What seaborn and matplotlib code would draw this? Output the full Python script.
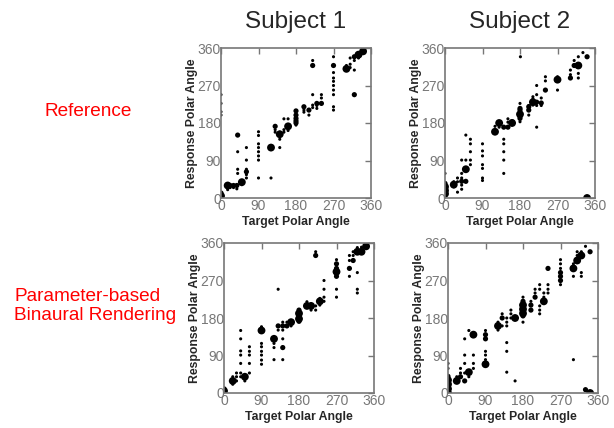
import numpy as np
import pandas as pd
import matplotlib
matplotlib.use("Agg")
import matplotlib.pyplot as plt
import seaborn as sns

# (target, response, weight); weight 1=small, 2=medium, 3=large dot
s1_ref = [
    (0, 5, 3), (0, 12, 2), (0, 199, 1), (0, 207, 1), (0, 227, 1), (0, 248, 1),
    (16, 30, 3), (16, 25, 1), (16, 20, 1), (22, 30, 2), (22, 25, 1), (30, 30, 2), (30, 25, 1),
    (38, 30, 2), (38, 22, 1), (50, 38, 3), (50, 32, 1),
    (40, 151, 2), (40, 111, 1), (40, 69, 1), (40, 59, 1),
    (61, 121, 1), (61, 91, 1), (61, 69, 1), (61, 63, 2), (61, 56, 1), (61, 48, 1),
    (90, 159, 1), (90, 150, 1), (90, 130, 1), (90, 121, 1), (90, 111, 1), (90, 101, 1), (90, 91, 1), (90, 48, 1),
    (120, 121, 3), (120, 48, 1),
    (130, 172, 2), (130, 164, 1), (130, 158, 1),
    (141, 158, 1), (141, 153, 3), (141, 141, 1), (141, 121, 1),
    (151, 190, 1), (151, 164, 1), (151, 158, 1),
    (161, 190, 1), (161, 172, 3), (161, 162, 1),
    (180, 209, 2), (180, 199, 2), (180, 191, 2), (180, 185, 2), (180, 180, 2), (180, 175, 1),
    (199, 219, 2), (199, 211, 1), (199, 206, 1),
    (211, 211, 2), (211, 199, 1),
    (220, 330, 1), (220, 318, 2), (220, 248, 1), (220, 223, 1), (220, 217, 1),
    (230, 227, 2), (230, 222, 1), (230, 215, 1),
    (241, 248, 1), (241, 240, 1), (241, 227, 2),
    (270, 339, 1), (270, 318, 2), (270, 301, 1), (270, 288, 1), (270, 280, 1), (270, 270, 1),
    (270, 259, 1), (270, 248, 1), (270, 219, 1), (270, 211, 1),
    (301, 318, 1), (301, 310, 3),
    (310, 336, 1), (310, 321, 1), (310, 313, 1),
    (320, 339, 2), (320, 330, 1), (320, 307, 1), (320, 248, 2),
    (330, 344, 3), (330, 336, 1),
    (341, 352, 3), (341, 349, 1),
]

s2_ref = [
    (0, 35, 2), (0, 27, 3), (0, 18, 3), (0, 10, 3), (0, 59, 1),
    (21, 39, 1), (21, 32, 3), (21, 27, 1),
    (30, 48, 1), (30, 39, 1), (30, 14, 1),
    (40, 91, 1), (40, 59, 1), (40, 48, 1), (40, 40, 2), (40, 31, 1), (40, 21, 1),
    (50, 151, 1), (50, 91, 1), (50, 69, 3), (50, 40, 2),
    (61, 141, 1), (61, 130, 1), (61, 111, 1), (61, 91, 1), (61, 80, 1),
    (90, 130, 1), (90, 113, 1), (90, 101, 1), (90, 80, 1), (90, 71, 1), (90, 48, 1), (90, 42, 1),
    (120, 172, 1), (120, 159, 3),
    (130, 180, 3), (130, 170, 1),
    (141, 170, 2), (141, 141, 1), (141, 130, 1), (141, 111, 1), (141, 91, 1), (141, 59, 1),
    (151, 190, 1), (151, 182, 1), (151, 170, 2),
    (161, 183, 2), (161, 180, 3),
    (180, 227, 1), (180, 215, 2), (180, 211, 2), (180, 201, 3), (180, 196, 2), (180, 191, 2), (180, 183, 1),
    (181, 339, 1),
    (201, 222, 1), (201, 219, 2), (201, 211, 2), (201, 199, 1),
    (211, 243, 1), (211, 238, 1), (211, 230, 3), (211, 223, 1),
    (220, 270, 1), (220, 248, 1), (220, 230, 2), (220, 222, 1), (220, 170, 1),
    (231, 240, 1), (231, 228, 2), (231, 222, 1),
    (241, 291, 1), (241, 281, 1), (241, 259, 2),
    (270, 291, 1), (270, 284, 3), (270, 259, 1),
    (301, 307, 1), (301, 296, 1), (301, 288, 2),
    (310, 330, 1), (310, 318, 2),
    (320, 339, 1), (320, 318, 3), (320, 299, 1), (320, 288, 1),
    (331, 349, 1),
    (341, 339, 2), (341, 0, 3),
]

s1_pbr = [
    (0, 10, 2), (0, 5, 3), (0, 0, 2),
    (21, 39, 1), (21, 29, 3), (21, 21, 1),
    (30, 48, 1), (30, 39, 1), (30, 29, 1),
    (40, 150, 1), (40, 130, 1), (40, 101, 1), (40, 91, 1), (40, 71, 1), (40, 48, 1), (40, 39, 1),
    (50, 39, 3), (50, 29, 1),
    (61, 111, 1), (61, 100, 1), (61, 91, 1), (61, 71, 1), (61, 48, 1),
    (90, 159, 1), (90, 150, 3), (90, 119, 1), (90, 111, 1), (90, 100, 1), (90, 91, 1), (90, 79, 1), (90, 69, 1),
    (120, 130, 3), (120, 119, 1), (120, 109, 1), (120, 80, 1),
    (130, 249, 1), (130, 161, 2), (130, 151, 1),
    (141, 170, 1), (141, 161, 2), (141, 151, 1), (141, 130, 1), (141, 109, 2), (141, 80, 1),
    (151, 170, 1), (151, 161, 2),
    (161, 170, 3), (161, 161, 1),
    (180, 199, 2), (180, 191, 3), (180, 185, 2), (180, 178, 3), (180, 172, 2),
    (199, 219, 1), (199, 211, 1), (199, 209, 3),
    (209, 209, 3), (209, 199, 1),
    (220, 339, 1), (220, 330, 2), (220, 209, 1), (220, 199, 1),
    (230, 227, 1), (230, 220, 3), (230, 211, 1),
    (240, 270, 1), (240, 249, 1), (240, 230, 1), (240, 220, 1),
    (270, 320, 1), (270, 310, 2), (270, 299, 2), (270, 291, 3), (270, 280, 2), (270, 249, 1), (270, 230, 1),
    (301, 330, 1), (301, 318, 1), (301, 299, 2), (301, 280, 1),
    (310, 339, 1), (310, 330, 1), (310, 318, 2),
    (320, 349, 1), (320, 339, 3), (320, 289, 1), (320, 249, 1), (320, 240, 1),
    (330, 350, 1), (330, 339, 3),
    (341, 352, 3),
]

s2_pbr = [
    (0, 71, 1), (0, 59, 1), (0, 40, 2), (0, 31, 3), (0, 21, 3), (0, 10, 3), (0, 0, 3),
    (21, 39, 1), (21, 29, 3),
    (30, 59, 1), (30, 48, 1), (30, 39, 2),
    (40, 130, 1), (40, 91, 1), (40, 71, 1), (40, 48, 1), (40, 29, 2),
    (50, 150, 1), (50, 50, 3), (50, 39, 1),
    (61, 140, 3), (61, 91, 1), (61, 71, 1), (61, 59, 1),
    (90, 150, 1), (90, 140, 2), (90, 130, 2), (90, 100, 1), (90, 91, 1), (90, 80, 1), (90, 69, 3),
    (120, 170, 1), (120, 161, 3), (120, 151, 1),
    (130, 190, 1), (130, 180, 2), (130, 161, 1),
    (141, 180, 1), (141, 170, 1), (141, 161, 1), (141, 121, 1), (141, 100, 1), (141, 50, 1),
    (151, 199, 1), (151, 190, 1), (151, 180, 1),
    (161, 180, 3), (161, 29, 1),
    (180, 230, 1), (180, 220, 2), (180, 211, 3), (180, 201, 3), (180, 191, 3), (180, 185, 2), (180, 170, 1),
    (199, 220, 1), (199, 211, 2), (199, 199, 2),
    (209, 249, 1), (209, 240, 1), (209, 230, 2),
    (220, 260, 1), (220, 249, 1), (220, 209, 1), (220, 199, 1), (220, 190, 1),
    (230, 240, 1), (230, 230, 1), (230, 220, 3),
    (240, 299, 2), (240, 260, 1), (240, 249, 1), (240, 240, 1),
    (270, 320, 1), (270, 310, 1), (270, 299, 1), (270, 289, 2), (270, 280, 2), (270, 270, 2), (270, 260, 1),
    (301, 310, 1), (301, 299, 3), (301, 280, 1), (301, 80, 1),
    (310, 339, 1), (310, 330, 1), (310, 318, 3),
    (320, 339, 1), (320, 330, 3), (320, 289, 1), (320, 280, 1),
    (330, 352, 1), (330, 8, 2),
    (341, 339, 2), (341, 0, 3),
]

ticks = [0, 90, 180, 270, 360]
subjects = ["Subject 1", "Subject 2"]
rows = ["Reference", "Parameter-based\nBinaural Rendering"]

sns.set_style("white")
plt.rcParams['font.family'] = ['Liberation Sans', 'DejaVu Sans']

fig = plt.figure(figsize=(6.14, 4.28), dpi=100)

W, H = 614, 428
# axes boxes in pixels: left, top, right, bottom
boxes = [(221, 48, 371, 198), (445, 48, 595, 198),
         (224, 243, 374, 393), (448, 243, 598, 393)]
panels = [s1_ref, s2_ref, s1_pbr, s2_pbr]

for (l, t, r, b), pts in zip(boxes, panels):
    ax = fig.add_axes([l / W, 1 - b / H, (r - l) / W, (b - t) / H])
    df = pd.DataFrame(pts, columns=["target", "response", "weight"])
    sns.scatterplot(data=df, x="target", y="response", size="weight",
                    sizes={1: 5, 2: 14, 3: 32}, color="black", linewidth=0,
                    legend=False, ax=ax)
    ax.set_xlim(0, 360)
    ax.set_ylim(0, 360)
    ax.set_xticks(ticks)
    ax.set_yticks(ticks)
    ax.tick_params(direction="in", length=4, width=1, color="#777777",
                   labelcolor="#777777", labelsize=10, pad=1,
                   top=True, right=True)
    ax.tick_params(axis="y", pad=0)
    for sp in ax.spines.values():
        sp.set_color("#777777")
        sp.set_linewidth(1.2)
    ax.set_xlabel("Target Polar Angle", fontsize=8.8, fontweight="bold", labelpad=2)
    ax.set_ylabel("Response Polar Angle", fontsize=8.8, fontweight="bold", labelpad=0)

fig.text(296 / W, 1 - 22 / H, subjects[0], fontsize=17.5, ha="center", va="center")
fig.text(520 / W, 1 - 22 / H, subjects[1], fontsize=17.5, ha="center", va="center")
fig.text(88 / W, 1 - 112 / H, rows[0], fontsize=13.7, color="red", ha="center", va="center")
fig.text(14 / W, 1 - 306 / H, rows[1], fontsize=13.7, color="red", ha="left", va="center",
         linespacing=1.15)

fig.savefig("out.png", dpi=100)
